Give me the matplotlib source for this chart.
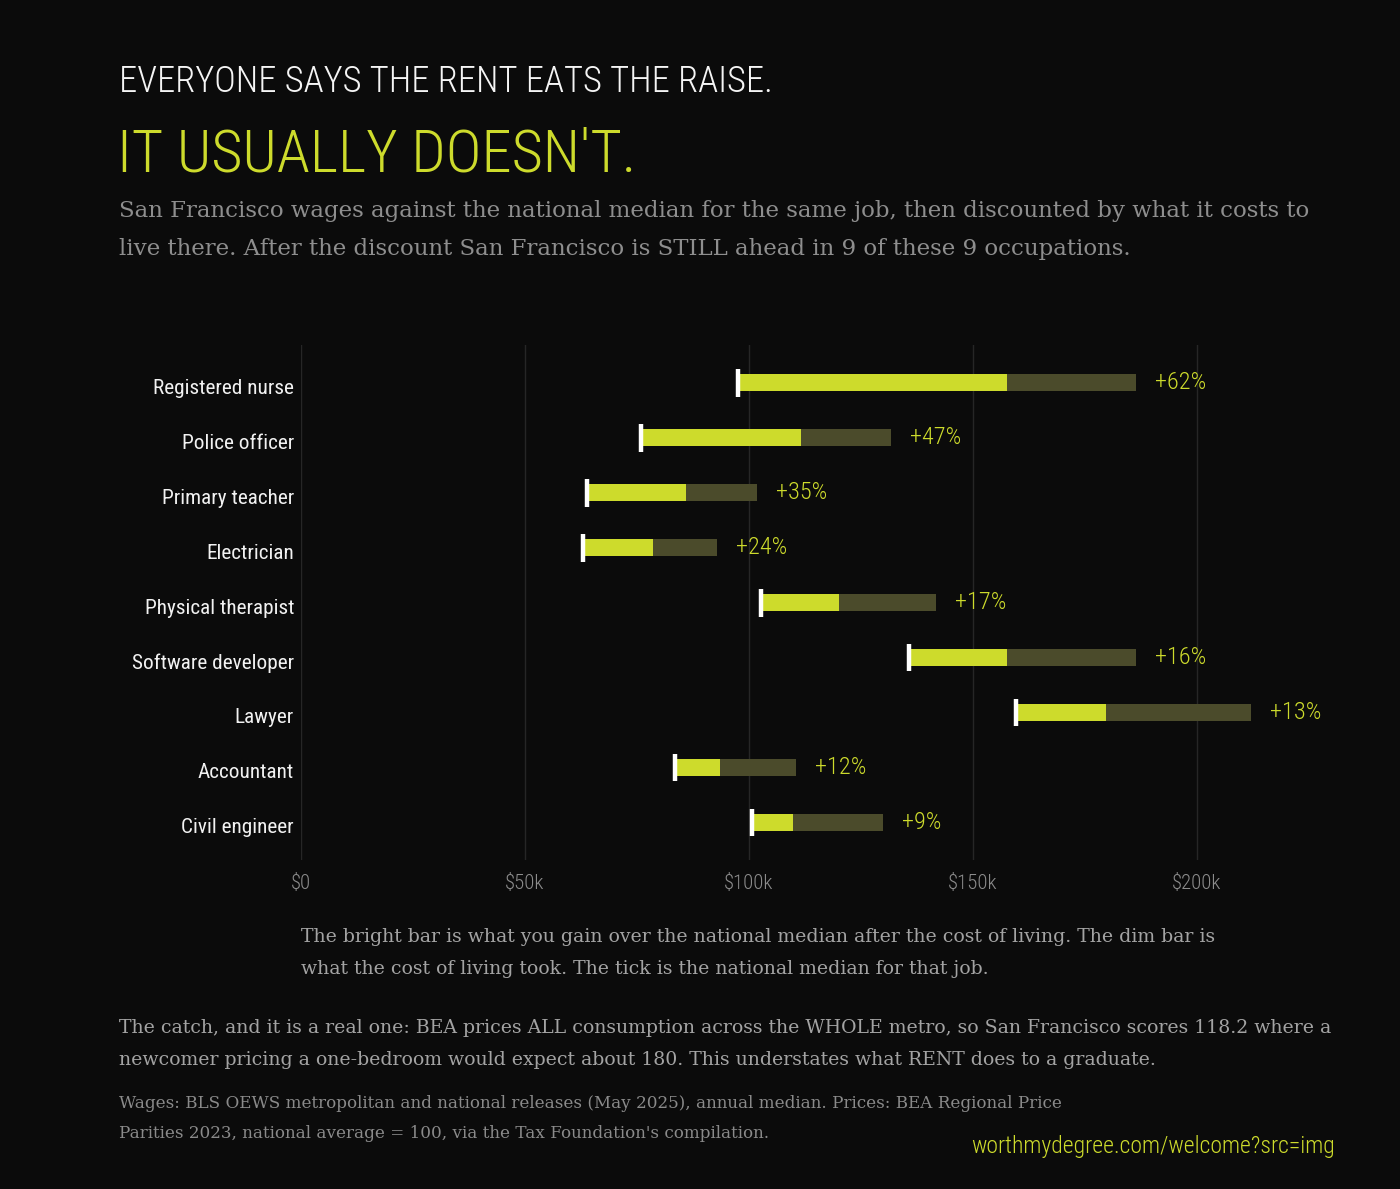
import matplotlib
matplotlib.use("Agg")
import matplotlib.pyplot as plt
from matplotlib import font_manager

# occupations, top to bottom
jobs = ["Registered nurse", "Police officer", "Primary teacher", "Electrician",
        "Physical therapist", "Software developer", "Lawyer", "Accountant",
        "Civil engineer"]
# annual medians, $k
national = [97.5, 75.9, 63.8, 62.9, 102.7, 135.7, 159.6, 83.5, 100.7]
sf_adjusted = [157.6, 111.6, 85.9, 78.6, 120.1, 157.6, 179.7, 93.5, 109.8]
sf_nominal = [186.4, 131.7, 101.8, 92.9, 141.7, 186.4, 212.1, 110.5, 129.9]
gain_labels = ["+62%", "+47%", "+35%", "+24%", "+17%", "+16%", "+13%", "+12%", "+9%"]
x_ticks = [0, 50, 100, 150, 200]
x_tick_labels = ["$0", "$50k", "$100k", "$150k", "$200k"]

BG = "#0b0b0b"
BRIGHT = "#cddb2c"
DIM = "#4b4b2b"
GRID = "#262626"

installed = {f.name for f in font_manager.fontManager.ttflist}
narrow = None
for name in ["Liberation Sans Narrow", "Roboto Condensed", "DejaVu Sans Condensed"]:
    if name in installed:
        narrow = name
        break
if narrow is None:
    narrow = "DejaVu Sans"
SANS = dict(family=narrow, fontstretch="condensed")
SANS_LIGHT = dict(family=narrow, fontstretch="condensed", fontweight="light")
SERIF = dict(family="DejaVu Serif")

W, H = 1400, 1189
fig = plt.figure(figsize=(W / 100, H / 100), dpi=100, facecolor=BG)


def px(x, y):
    return x / W, 1 - y / H


# axes placed so $0 sits at x=301 and 50k spans 224px
x_max = 227
ax_left, ax_top, ax_bottom = 301, 345, 860
ax_right = ax_left + x_max / 50 * 224
ax = fig.add_axes([ax_left / W, 1 - ax_bottom / H, (ax_right - ax_left) / W, (ax_bottom - ax_top) / H])
ax.set_facecolor(BG)

ys = list(range(len(jobs)))
bar_h = 0.31
ax.barh(ys, [a - n for a, n in zip(sf_adjusted, national)], left=national,
        height=bar_h, color=BRIGHT, zorder=3)
ax.barh(ys, [s - a for s, a in zip(sf_nominal, sf_adjusted)], left=sf_adjusted,
        height=bar_h, color=DIM, zorder=3)
ax.vlines(national, [y - 0.25 for y in ys], [y + 0.25 for y in ys],
          color="white", linewidth=3.2, zorder=4)

for y, s, lab in zip(ys, sf_nominal, gain_labels):
    ax.annotate(lab, (s, y), xytext=(19, 0), textcoords="offset pixels",
                va="center", ha="left", color=BRIGHT, fontsize=17.5, **SANS_LIGHT)

ax.set_xlim(0, x_max)
ax.set_ylim(8.68, -0.69)
ax.set_xticks(x_ticks)
ax.set_xticklabels(x_tick_labels, color="#8c8c8c", fontsize=15, **SANS_LIGHT)
ax.set_yticks([y + 0.06 for y in ys])
ax.set_yticklabels(jobs, color="#f2f2f2", fontsize=15.3, **SANS)
ax.tick_params(axis="both", length=0)
ax.tick_params(axis="x", pad=10)
ax.tick_params(axis="y", pad=5)
ax.grid(axis="x", color=GRID, linewidth=1, zorder=0)
for sp in ax.spines.values():
    sp.set_visible(False)

# headline block
fig.text(*px(119, 82), "EVERYONE SAYS THE RENT EATS THE RAISE.", color="#f5f5f5",
         fontsize=26.3, va="center", ha="left", **SANS_LIGHT)
fig.text(*px(117, 155), "IT USUALLY DOESN'T.", color=BRIGHT,
         fontsize=43.5, va="center", ha="left", **SANS_LIGHT)
fig.text(*px(119, 211),
         "San Francisco wages against the national median for the same job, then discounted by what it costs to",
         color="#8e8e8e", fontsize=16.5, va="center", ha="left", **SERIF)
fig.text(*px(119, 249),
         "live there. After the discount San Francisco is STILL ahead in 9 of these 9 occupations.",
         color="#8e8e8e", fontsize=16.5, va="center", ha="left", **SERIF)

# key under the chart
fig.text(*px(301, 937),
         "The bright bar is what you gain over the national median after the cost of living. The dim bar is",
         color="#a3a3a3", fontsize=13.6, va="center", ha="left", **SERIF)
fig.text(*px(301, 969),
         "what the cost of living took. The tick is the national median for that job.",
         color="#a3a3a3", fontsize=13.6, va="center", ha="left", **SERIF)

fig.text(*px(119, 1028),
         "The catch, and it is a real one: BEA prices ALL consumption across the WHOLE metro, so San Francisco scores 118.2 where a",
         color="#a3a3a3", fontsize=13.6, va="center", ha="left", **SERIF)
fig.text(*px(119, 1060),
         "newcomer pricing a one-bedroom would expect about 180. This understates what RENT does to a graduate.",
         color="#a3a3a3", fontsize=13.6, va="center", ha="left", **SERIF)

fig.text(*px(119, 1104),
         "Wages: BLS OEWS metropolitan and national releases (May 2025), annual median. Prices: BEA Regional Price",
         color="#8a8a8a", fontsize=12.1, va="center", ha="left", **SERIF)
fig.text(*px(119, 1134),
         "Parities 2023, national average = 100, via the Tax Foundation's compilation.",
         color="#8a8a8a", fontsize=12.1, va="center", ha="left", **SERIF)

fig.text(*px(1335, 1147), "worthmydegree.com/welcome?src=img", color=BRIGHT,
         fontsize=17, va="center", ha="right", **SANS_LIGHT)

fig.savefig("out.png", dpi=100, facecolor=BG)
